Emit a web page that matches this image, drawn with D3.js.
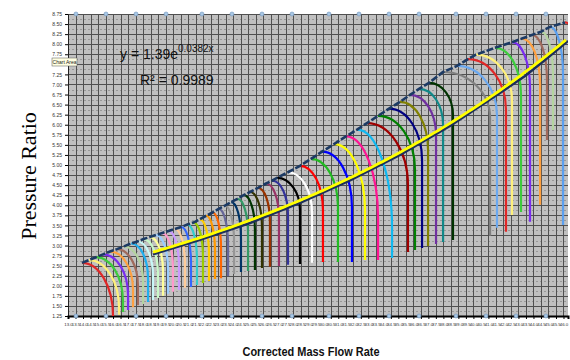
<!DOCTYPE html>
<html>
<head>
<meta charset="utf-8">
<script src="https://cdn.jsdelivr.net/npm/d3@7/dist/d3.min.js"></script>
<style>
  html, body { margin: 0; padding: 0; background: #fff; }
  svg { display: block; }
</style>
</head>
<body>
<svg id="chart" width="570" height="360"></svg>
<script>
// speed lines: surge point, choke (vertical) flow, knee PR, end PR
const surgeFlow = [13.93,14.40,14.86,15.33,15.80,16.26,16.73,17.20,17.62,18.03,18.45,18.86,19.28,19.70,20.11,20.53,20.95,21.36,21.78,22.20,22.62,23.03,23.45,23.87,24.28,24.70,25.12,25.65,26.19,26.59,26.92,27.65,28.45,29.18,29.92,30.72,31.51,32.25,32.91,33.65,34.38,35.11,35.78,36.38,37.04,37.98,38.91,39.64,40.17,41.44,42.57,43.24,43.90,44.50,45.10,46.10];
const surgePR = [2.57,2.64,2.71,2.78,2.85,2.91,2.98,3.05,3.10,3.16,3.21,3.26,3.31,3.36,3.41,3.46,3.52,3.57,3.65,3.74,3.82,3.91,3.99,4.08,4.16,4.25,4.33,4.43,4.54,4.61,4.68,4.82,4.98,5.15,5.33,5.52,5.71,5.88,6.04,6.22,6.40,6.57,6.74,6.89,7.04,7.31,7.46,7.63,7.74,7.91,8.05,8.14,8.23,8.31,8.43,8.54];
const chokeFlow = [16.00,16.40,16.66,17.00,17.33,17.66,18.00,18.33,18.66,18.99,19.33,19.66,19.99,20.39,20.79,21.19,21.59,21.99,22.39,22.79,23.19,23.66,24.06,24.52,24.99,25.45,25.92,26.45,27.05,27.65,28.45,29.25,29.98,30.98,31.91,32.78,33.65,34.58,35.64,36.11,36.58,36.98,37.51,37.98,38.64,41.11,41.57,42.17,42.57,43.17,43.77,44.44,44.90,45.30,45.97,47.10];
const kneePR = [1.25,1.45,1.62,1.77,1.90,2.00,2.10,2.19,2.24,2.29,2.34,2.39,2.44,2.49,2.54,2.59,2.64,2.72,2.79,2.86,2.94,3.01,3.09,3.19,3.29,3.39,3.46,3.59,3.68,3.76,3.88,3.81,3.88,3.96,3.96,3.88,3.68,3.44,4.50,4.88,5.12,5.37,5.75,5.99,6.24,6.17,6.24,6.37,6.61,6.74,6.91,6.99,7.11,7.24,7.24,7.61];
const endPR = [1.25,1.28,1.35,1.40,1.47,1.52,1.55,1.60,1.65,1.70,1.75,1.80,1.85,1.90,1.95,1.97,2.02,2.07,2.12,2.17,2.19,2.24,2.29,2.34,2.37,2.39,2.44,2.47,2.49,2.52,2.54,2.57,2.59,2.59,2.59,2.64,2.64,2.69,2.84,2.89,2.94,2.99,3.04,3.09,3.14,3.24,3.44,3.34,3.76,3.83,3.59,4.01,5.62,5.87,3.51,4.13];
const lineColors = ["#e02828","#fff07a","#3ccc3c","#7a2cf0","#ffa040","#a06a5c","#b4d4a0","#20b0f0","#c8f8f8","#c8f8c8","#ffff99","#99ccff","#ff99cc","#cc99ff","#ffcc99","#3366ff","#33cccc","#99cc00","#ffcc00","#ff9900","#ff6600","#666699","#969696","#003366","#339966","#003300","#333300","#993300","#993366","#333399","#000000","#ffffff","#ff0000","#22bb22","#0000ff","#ffff00","#ff1493","#10b8f0","#a00000","#008000","#000080","#808000","#7030a0","#108888","#003300","#808080","#6aa8f0","#e02828","#fff07a","#3ccc3c","#7a2cf0","#ffa040","#a06a5c","#b4d4a0","#5aa0f0","#e02828"];

// operating line and trendline y = 1.39 e^(0.0382 x)
const opFlow = [18.66,21.79,25.12,28.45,31.78,35.11,38.44,41.77,43.44,44.77,46.30];
const opPR = [2.78,3.14,3.56,4.06,4.62,5.25,5.97,6.79,7.21,7.61,8.08];
const trendA = 1.39, trendB = 0.0382;

// hidden-series markers along top and bottom edges
const markerFlow = [13.53,15.53,17.53,19.53,21.92,23.92,25.92,27.92,30.38,32.38,34.38,36.38,38.84,40.84,42.84,44.83];

const yTicks = d3.range(1.25, 8.751, 0.25);
const xTicks = d3.range(13, 46.01, 0.5);
const hiddenYLabel = 7.5; // covered by the "Chart Area" tooltip

const svg = d3.select("#chart");
const margin = { top: 14, right: 2, bottom: 44, left: 68 };
const plotW = 570 - margin.left - margin.right;
const plotH = 360 - margin.top - margin.bottom;

const x = d3.scaleLinear().domain([13, 46.3]).range([margin.left, 568]);
const y = d3.scaleLinear().domain([1.25, 8.75]).range([316, margin.top]);

svg.append("defs").append("clipPath").attr("id", "plot")
  .append("rect").attr("x", margin.left).attr("y", margin.top).attr("width", plotW).attr("height", plotH);

// plot background
svg.append("rect")
  .attr("x", margin.left).attr("y", margin.top)
  .attr("width", plotW).attr("height", plotH)
  .attr("fill", "#c0c0c0");

const grid = svg.append("g").attr("clip-path", "url(#plot)");

// minor dotted grid (horizontal only)
grid.selectAll(".ym").data(yTicks.slice(1)).enter().append("line")
  .attr("x1", margin.left).attr("x2", 570)
  .attr("y1", (d) => Math.round(y(d - 0.125)) + 0.5).attr("y2", (d) => Math.round(y(d - 0.125)) + 0.5)
  .attr("stroke", "#999").attr("stroke-dasharray", "2,2");

// major grid
grid.selectAll(".yg").data(yTicks).enter().append("line")
  .attr("x1", margin.left).attr("x2", 570)
  .attr("y1", (d) => Math.round(y(d)) + 0.5).attr("y2", (d) => Math.round(y(d)) + 0.5)
  .attr("stroke", "#505050");
grid.selectAll(".xg").data(xTicks).enter().append("line")
  .attr("x1", (d) => Math.round(x(d)) + 0.5).attr("x2", (d) => Math.round(x(d)) + 0.5)
  .attr("y1", margin.top).attr("y2", 316)
  .attr("stroke", "#505050");

// axes
const yAxis = svg.append("g")
  .attr("transform", `translate(${margin.left},0)`)
  .call(d3.axisLeft(y).tickValues(yTicks)
    .tickFormat((d) => (Math.abs(d - hiddenYLabel) < 1e-6 ? "" : d3.format(".2f")(d)))
    .tickSize(3));
yAxis.selectAll("text").attr("font-size", 5).attr("font-family", "Liberation Sans Narrow, Arial").attr("fill", "#333");
yAxis.select(".domain").attr("stroke", "#222");

const xAxis = svg.append("g")
  .attr("transform", "translate(0,316)")
  .call(d3.axisBottom(x).tickValues(xTicks).tickFormat(d3.format(".1f")).tickSize(3));
xAxis.selectAll("text").attr("font-size", 4.4).attr("font-family", "Liberation Sans Narrow, Arial").attr("fill", "#333").attr("dy", "0.9em");
xAxis.select(".domain").attr("stroke", "#000").attr("stroke-width", 2);

// speed lines
const lines = svg.append("g").attr("clip-path", "url(#plot)");
const idx = d3.range(surgeFlow.length);
lines.selectAll("path.speed").data(idx).enter().append("path")
  .attr("class", "speed")
  .attr("d", (i) => {
    const x0 = x(surgeFlow[i]), y0 = y(surgePR[i]);
    const x1 = x(chokeFlow[i]), y1 = y(kneePR[i]), y2 = y(endPR[i]);
    return `M${x0},${y0} A${x1 - x0},${y1 - y0} 0 0 1 ${x1},${y1} L${x1},${y2}`;
  })
  .attr("fill", "none")
  .attr("stroke", (i) => lineColors[i])
  .attr("stroke-width", 2.2);

// surge line
lines.append("path")
  .datum(idx)
  .attr("d", d3.line().x((i) => x(surgeFlow[i])).y((i) => y(surgePR[i])))
  .attr("fill", "none")
  .attr("stroke", "#1c3a64")
  .attr("stroke-width", 2.6)
  .attr("stroke-dasharray", "7,2");

// operating line
lines.append("path")
  .datum(d3.zip(opFlow, opPR))
  .attr("d", d3.line().x((d) => x(d[0])).y((d) => y(d[1])))
  .attr("fill", "none")
  .attr("stroke", "#1c2f5a")
  .attr("stroke-width", 2.5);

// exponential trendline
const trendX = d3.range(opFlow[0], 46.31, 0.25);
lines.append("path")
  .datum(trendX)
  .attr("d", d3.line().x((d) => x(d)).y((d) => y(trendA * Math.exp(trendB * d))))
  .attr("fill", "none")
  .attr("stroke", "#ffff00")
  .attr("stroke-width", 2.8);

// edge markers
[8.75, 1.25].forEach((v) => {
  svg.append("g").selectAll("circle").data(markerFlow).enter().append("circle")
    .attr("cx", (d) => x(d)).attr("cy", y(v)).attr("r", 2)
    .attr("fill", "#a8c8e6").attr("stroke", "#7094bc").attr("stroke-width", 0.6);
});

// trendline equation
const eq = svg.append("text")
  .attr("x", 120).attr("y", 59)
  .attr("font-family", "Liberation Sans Narrow, Arial Narrow, sans-serif")
  .attr("font-size", 14).attr("fill", "#111");
eq.append("tspan").text("y = 1.39e");
eq.append("tspan").attr("font-size", 10).attr("dy", -7).text("0.0382x");
svg.append("text")
  .attr("x", 140).attr("y", 85)
  .attr("font-family", "Liberation Sans Narrow, Arial Narrow, sans-serif")
  .attr("font-size", 14).attr("fill", "#111")
  .text("R² = 0.9989");

// tooltip
const tip = svg.append("g").attr("transform", "translate(52,58)");
tip.append("rect").attr("width", 25).attr("height", 8)
  .attr("fill", "#ffffe1").attr("stroke", "#555").attr("stroke-width", 0.5);
tip.append("text").attr("x", 12.5).attr("y", 5.8).attr("text-anchor", "middle")
  .attr("font-family", "Liberation Sans, Arial").attr("font-size", 5).attr("fill", "#222")
  .text("Chart Area");

// axis titles
svg.append("text")
  .attr("transform", "translate(36,176) rotate(-90)")
  .attr("text-anchor", "middle")
  .attr("font-family", "Liberation Serif, Times New Roman, serif")
  .attr("font-size", 22).attr("fill", "#000")
  .text("Pressure Ratio");

svg.append("text")
  .attr("x", 311).attr("y", 356)
  .attr("text-anchor", "middle")
  .attr("font-family", "Liberation Sans Narrow, Arial Narrow, sans-serif")
  .attr("font-weight", "bold")
  .attr("font-size", 13).attr("fill", "#111")
  .attr("textLength", 137).attr("lengthAdjust", "spacingAndGlyphs")
  .text("Corrected Mass Flow Rate");
</script>
</body>
</html>
